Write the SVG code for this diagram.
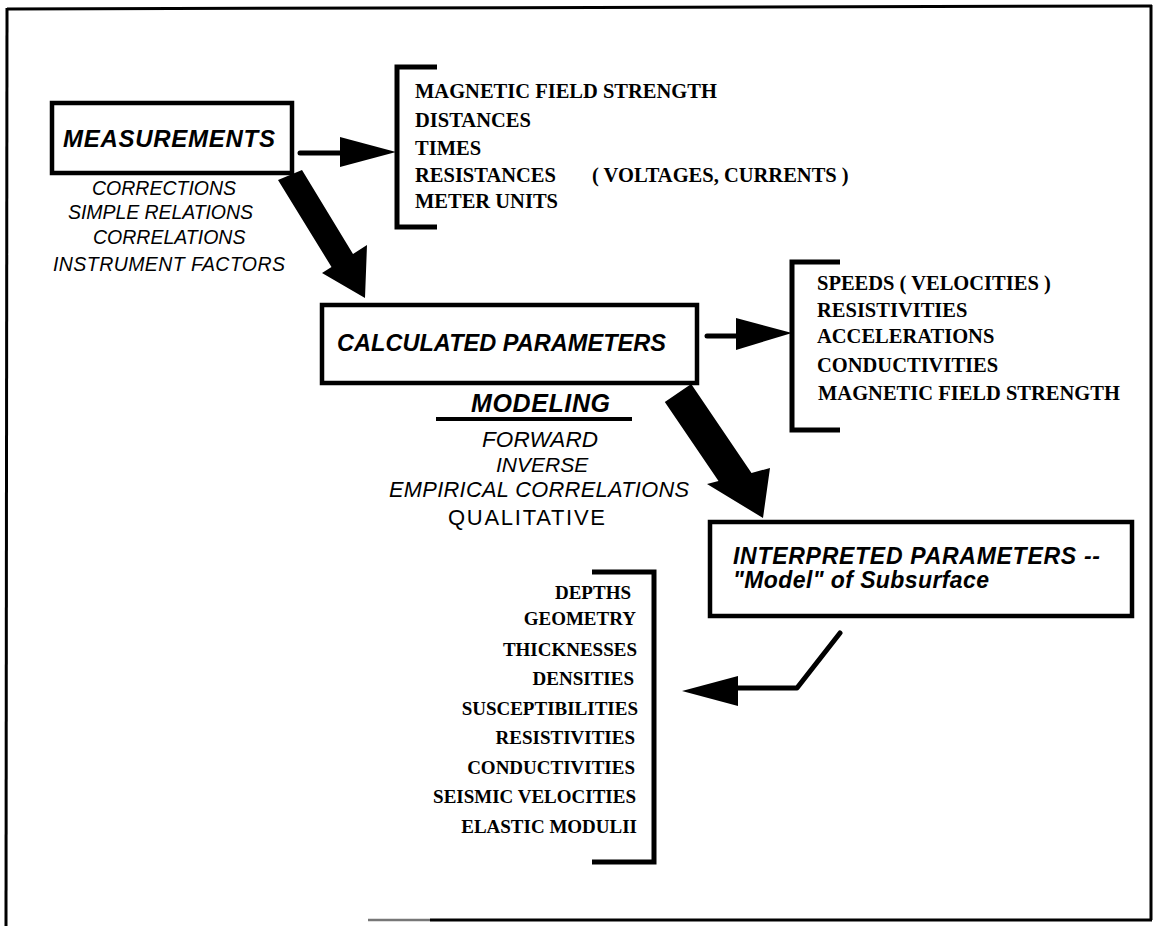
<svg xmlns="http://www.w3.org/2000/svg" width="1154" height="926" viewBox="0 0 1154 926">
<style>
.bg{fill:#fff}
.frame{stroke:#000;stroke-width:3;fill:none}
.box{fill:#fff;stroke:#000;stroke-width:4.5}
.title{font-family:"Liberation Sans",Arial,sans-serif;font-weight:bold;font-style:italic;font-size:23px;fill:#000}
.note{font-family:"Liberation Sans",Arial,sans-serif;font-style:italic;font-size:19.5px;fill:#000}
.note2{font-family:"Liberation Sans",Arial,sans-serif;font-style:italic;font-size:21px;fill:#000}
.upright{font-style:normal}
.list{font-family:"Liberation Serif","Times New Roman",serif;font-weight:bold;font-size:20.5px;fill:#000}
.list2{font-family:"Liberation Serif","Times New Roman",serif;font-weight:bold;font-size:19px;fill:#000;text-anchor:end}
.bracket{fill:none;stroke:#000;stroke-width:5}
.conn{stroke:#000;stroke-width:5;fill:none;stroke-linecap:round;stroke-linejoin:round}
.head{fill:#000;stroke:none}
</style>
<rect class="bg" x="0" y="0" width="1154" height="926"/>
<g id="frame">
<line class="frame" x1="7" y1="9" x2="1152" y2="6"/>
<line class="frame" x1="7" y1="8" x2="6" y2="926"/>
<line class="frame" x1="1151" y1="5" x2="1151" y2="920"/>
<line class="frame" x1="430" y1="920" x2="1152" y2="920"/>
<line x1="368" y1="920" x2="430" y2="920" stroke="#777" stroke-width="2.5"/>
</g>
<g id="measurements">
<rect class="box" x="52" y="103" width="240" height="70"/>
<text class="title" x="63" y="147" style="font-size:24px" textLength="212">MEASUREMENTS</text>
</g>
<g id="measurement-methods">
<text class="note" x="92" y="195">CORRECTIONS</text>
<text class="note" x="68" y="219" textLength="185">SIMPLE RELATIONS</text>
<text class="note" x="93" y="244">CORRELATIONS</text>
<text class="note" x="53" y="271" textLength="232">INSTRUMENT FACTORS</text>
</g>
<g id="raw-quantities">
<path class="bracket" d="M437,67 H397 V227 H437"/>
<text class="list" x="415" y="98">MAGNETIC FIELD STRENGTH</text>
<text class="list" x="415" y="127">DISTANCES</text>
<text class="list" x="415" y="155">TIMES</text>
<text class="list" x="415" y="182">RESISTANCES</text>
<text class="list" x="592" y="182">( VOLTAGES, CURRENTS )</text>
<text class="list" x="415" y="208">METER UNITS</text>
</g>
<g id="calculated">
<rect class="box" x="322" y="305" width="375" height="78"/>
<text class="title" x="337" y="351" style="font-size:23.5px" textLength="329">CALCULATED PARAMETERS</text>
</g>
<g id="derived-quantities">
<path class="bracket" d="M840,262 H792 V430 H840"/>
<text class="list" x="817" y="290">SPEEDS ( VELOCITIES )</text>
<text class="list" x="817" y="317">RESISTIVITIES</text>
<text class="list" x="817" y="343">ACCELERATIONS</text>
<text class="list" x="817" y="372">CONDUCTIVITIES</text>
<text class="list" x="818" y="400">MAGNETIC FIELD STRENGTH</text>
</g>
<g id="modeling">
<text class="note2" x="471" y="412" style="font-size:25px;font-weight:bold" textLength="139">MODELING</text>
<line x1="436" y1="419" x2="632" y2="419" stroke="#000" stroke-width="4"/>
<text class="note2" x="482" y="447" style="font-size:22.5px" textLength="116">FORWARD</text>
<text class="note2" x="496" y="472">INVERSE</text>
<text class="note2" x="389" y="497" style="font-size:21.8px" textLength="300">EMPIRICAL CORRELATIONS</text>
<text class="note2 upright" x="448" y="525" style="font-size:22px" textLength="157">QUALITATIVE</text>
</g>
<g id="interpreted">
<rect class="box" x="710" y="522" width="422" height="94" stroke-width="5"/>
<text class="title" x="733" y="564" textLength="367">INTERPRETED PARAMETERS --</text>
<text class="title" x="733" y="588" textLength="256">"Model" of Subsurface</text>
</g>
<g id="interpreted-quantities">
<path class="bracket" d="M592,572 H654 V862 H592"/>
<text class="list2" x="631" y="599">DEPTHS</text>
<text class="list2" x="636" y="625">GEOMETRY</text>
<text class="list2" x="637" y="656">THICKNESSES</text>
<text class="list2" x="634" y="685">DENSITIES</text>
<text class="list2" x="638" y="715">SUSCEPTIBILITIES</text>
<text class="list2" x="635" y="744">RESISTIVITIES</text>
<text class="list2" x="635" y="774">CONDUCTIVITIES</text>
<text class="list2" x="636" y="803">SEISMIC VELOCITIES</text>
<text class="list2" x="637" y="833">ELASTIC MODULII</text>
</g>
<g id="connectors">
<line class="conn" x1="300" y1="153" x2="345" y2="153"/>
<polygon class="head" points="340,137 396,152 340,167"/>
<line class="conn" x1="707" y1="336" x2="740" y2="336"/>
<polygon class="head" points="736,318 792,333 736,350"/>
<polygon class="head" points="278,180 302,170 353,254 367,245 365,298 322,273 331.5,267"/>
<polygon class="head" points="664.8,402 691.2,384 751.5,473 770,468 763,518 707,484 718.5,481"/>
<polyline class="conn" points="840,633 797,688 737,688"/>
<polygon class="head" points="738,676 682,691 738,706"/>
</g>
</svg>
